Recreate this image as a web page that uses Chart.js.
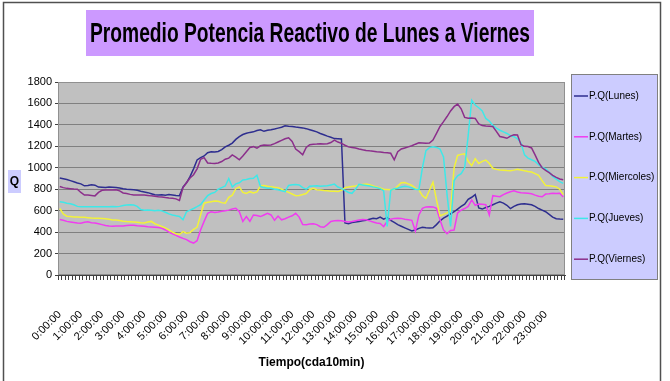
<!DOCTYPE html>
<html lang="es">
<head>
<meta charset="UTF-8">
<title>Promedio Potencia Reactivo de Lunes a Viernes</title>
<script src="https://cdn.jsdelivr.net/npm/chart.js@4.4.1/dist/chart.umd.min.js"></script>
<style>
  html, body { margin: 0; padding: 0; background: #fff; }
  .chart-box { position: relative; width: 670px; height: 381px; }
</style>
</head>
<body>
<div class="chart-box">
  <canvas id="qChart" width="670" height="381"></canvas>
</div>
<script>
// etiquetas de hora (una por hora, el eje tiene datos cada 10 min)
const hourLabels = ['0:00:00', '1:00:00', '2:00:00', '3:00:00', '4:00:00', '5:00:00',
  '6:00:00', '7:00:00', '8:00:00', '9:00:00', '10:00:00', '11:00:00',
  '12:00:00', '13:00:00', '14:00:00', '15:00:00', '16:00:00', '17:00:00',
  '18:00:00', '19:00:00', '20:00:00', '21:00:00', '22:00:00', '23:00:00'];
const minuteSteps = ['00', '10', '20', '30', '40', '50'];

const times = [];
hourLabels.forEach((h, hi) => {
  minuteSteps.forEach(m => times.push(hi + ':' + m + ':00'));
});

const seriesNames = ['P.Q(Lunes)', 'P.Q(Martes)', 'P.Q(Miercoles)', 'P.Q(Jueves)', 'P.Q(Viernes)'];
const seriesColors = ['#2e2e8f', '#f03cf0', '#f2f23a', '#3ee8e8', '#8b2f8b'];

const lunes = [
  905, 898, 890, 880, 870, 858, 850, 832, 835, 842, 838, 820,
  818, 816, 820, 818, 815, 812, 805, 800, 798, 795, 790, 782,
  775, 768, 758, 748, 745, 748, 744, 750, 746, 742, 740, 820,
  860, 917, 990, 1073, 1095, 1110, 1140, 1150, 1148, 1152, 1170, 1195,
  1210, 1230, 1265, 1290, 1310, 1322, 1330, 1335, 1348, 1355, 1340, 1350,
  1355, 1362, 1370, 1378, 1392, 1388, 1385, 1380, 1376, 1372, 1365, 1355,
  1345, 1335, 1320, 1308, 1295, 1285, 1272, 1270, 1268, 485, 478, 490,
  495, 500, 505, 510, 520, 530, 525, 540, 520, 535, 510, 490,
  470, 455, 440, 425, 410, 420, 435, 445, 440, 438, 440, 470,
  505, 530, 550, 570, 590, 615, 640, 660, 705, 725, 750, 625,
  615, 630, 640, 655, 670, 682, 670, 650, 620, 640, 655, 662,
  665, 660, 655, 640, 620, 605, 590, 565, 540, 525, 522, 520];

const martes = [
  518, 510, 500, 495, 490, 484, 482, 492, 496, 488, 485, 478,
  470, 462, 456, 455, 458, 457, 458, 462, 465, 463, 460, 458,
  455, 450, 448, 445, 442, 436, 420, 400, 385, 370, 355, 342,
  330, 310, 298, 320, 420, 500, 575, 590, 582, 588, 595, 600,
  605, 615, 622, 590, 500, 545, 500, 560, 555, 545, 560, 575,
  560, 510, 550, 515, 525, 540, 552, 575, 540, 470, 468, 475,
  478, 470, 450, 445, 470, 500, 505, 508, 505, 500, 495, 498,
  505, 512, 518, 515, 505, 495, 485, 480, 452, 500, 520, 528,
  530, 528, 520, 515, 510, 410, 560, 622, 635, 637, 635, 622,
  515, 420, 385, 415, 420, 580, 605, 620, 640, 700, 650, 662,
  660, 655, 560, 740, 735, 730, 750, 765, 777, 785, 775, 768,
  765, 762, 758, 745, 735, 730, 755, 758, 762, 760, 762, 728];

const miercoles = [
  620, 570, 548, 545, 542, 540, 538, 538, 535, 532, 530, 529,
  528, 525, 520, 514, 512, 508, 502, 498, 497, 495, 492, 488,
  485, 495, 500, 478, 465, 452, 440, 420, 400, 385, 378, 405,
  390, 395, 425, 445, 560, 670, 678, 684, 690, 688, 675, 670,
  725, 745, 805, 822, 770, 760, 777, 765, 775, 830, 835, 828,
  822, 818, 815, 800, 785, 770, 755, 740, 742, 750, 760, 795,
  808, 795, 792, 788, 785, 782, 780, 778, 790, 815, 820, 825,
  830, 838, 845, 849, 842, 830, 822, 812, 800, 798, 795, 800,
  830, 860, 862, 850, 835, 810, 795, 740, 715, 790, 865, 700,
  550, 565, 580, 600, 1000, 1115, 1125, 1130, 1060, 1020, 1085, 1040,
  1060, 1072, 1040, 995, 985, 980, 978, 975, 973, 978, 985, 980,
  972, 965, 960, 945, 930, 880, 835, 832, 828, 822, 800, 750];

const jueves = [
  684, 678, 670, 665, 655, 640, 637, 636, 637, 636, 637, 636,
  637, 636, 637, 638, 637, 640, 648, 653, 655, 652, 640, 610,
  605, 606, 604, 600, 604, 598, 585, 570, 560, 552, 545, 515,
  590, 605, 620, 637, 655, 700, 740, 760, 770, 800, 815, 830,
  900, 820, 850, 860, 886, 890, 900, 902, 930, 825, 815, 810,
  808, 800, 795, 785, 778, 835, 842, 845, 840, 815, 800, 828,
  830, 832, 828, 830, 832, 840, 848, 820, 808, 790, 770, 762,
  800, 845, 840, 835, 830, 822, 815, 805, 785, 452, 790, 805,
  810, 820, 828, 822, 812, 800, 795, 1000, 1160, 1188, 1195, 1190,
  1175, 1100, 750, 452, 880, 925, 945, 1000, 1300, 1630, 1585, 1560,
  1530, 1460, 1435, 1395, 1370, 1350, 1335, 1320, 1300, 1290, 1270, 1230,
  1120, 1090, 1075, 1060, 1030, 1005, 990, 960, 920, 895, 870, 855];

const viernes = [
  825, 815, 808, 805, 802, 800, 770, 745, 745, 742, 738, 770,
  790, 793, 792, 793, 794, 785, 765, 760, 752, 746, 745, 746,
  745, 742, 738, 735, 730, 728, 722, 718, 715, 710, 695, 815,
  860, 905, 935, 990, 1080, 1095, 1045, 1042, 1040, 1045, 1058, 1080,
  1090, 1120, 1100, 1075, 1110, 1150, 1190, 1197, 1182, 1205, 1213, 1210,
  1212, 1225, 1240, 1255, 1270, 1280, 1245, 1175, 1150, 1122, 1190, 1215,
  1220, 1222, 1225, 1222, 1224, 1235, 1258, 1240, 1228, 1210, 1195, 1190,
  1185, 1175, 1168, 1162, 1158, 1155, 1150, 1148, 1142, 1140, 1135, 1075,
  1150, 1175, 1185, 1195, 1205, 1220, 1234, 1232, 1228, 1230, 1258, 1320,
  1385, 1430, 1478, 1530, 1570, 1595, 1550, 1470, 1462, 1465, 1460, 1410,
  1395, 1390, 1388, 1385, 1340, 1292, 1285, 1275, 1295, 1308, 1305, 1215,
  1200, 1198, 1185, 1120, 1050, 1000, 975, 955, 930, 910, 895, 888];

const seriesValues = [lunes, martes, miercoles, jueves, viernes];
const yTicks = { min: 0, max: 1800, step: 200 };

const FONT = '"Liberation Sans", Arial, sans-serif';

// fondo, marco, titulo, etiqueta Q y leyenda (estilo Excel)
const excelFrame = {
  id: 'excelFrame',
  beforeDraw(chart) {
    const ctx = chart.ctx;
    const a = chart.chartArea;
    ctx.save();
    ctx.fillStyle = '#fff';
    ctx.fillRect(0, 0, chart.width, chart.height);

    // borde exterior
    ctx.strokeStyle = '#505050';
    ctx.lineWidth = 1.5;
    ctx.strokeRect(3.5, 2.5, 657, 400);

    // area del grafico
    ctx.fillStyle = '#c0c0c0';
    ctx.fillRect(a.left, a.top, a.right - a.left, a.bottom - a.top);

    // titulo
    ctx.fillStyle = '#cc99ff';
    ctx.fillRect(86, 10, 448, 46);
    const title = 'Promedio Potencia Reactivo de Lunes a Viernes';
    ctx.font = 'bold 28px "Liberation Sans Narrow", ' + FONT;
    const w = ctx.measureText(title).width;
    const sx = Math.min(1, 440 / w);
    ctx.translate(310, 34);
    ctx.scale(sx, 1);
    ctx.fillStyle = '#000';
    ctx.textAlign = 'center';
    ctx.textBaseline = 'middle';
    ctx.fillText(title, 0, 0);
    ctx.restore();

    // etiqueta del eje Y
    ctx.save();
    ctx.fillStyle = '#ccccff';
    ctx.fillRect(8, 170, 13, 23);
    ctx.fillStyle = '#000';
    ctx.font = 'bold 12px ' + FONT;
    ctx.textAlign = 'center';
    ctx.textBaseline = 'middle';
    ctx.fillText('Q', 14.5, 182);
    ctx.restore();
  },
  afterDraw(chart) {
    const ctx = chart.ctx;
    const a = chart.chartArea;
    ctx.save();
    ctx.strokeStyle = '#909090';
    ctx.lineWidth = 1;
    ctx.strokeRect(a.left + 0.5, a.top + 0.5, a.right - a.left - 1, a.bottom - a.top - 1);

    // leyenda
    ctx.fillStyle = '#ccccff';
    ctx.fillRect(571, 74, 86, 205);
    ctx.strokeStyle = '#808080';
    ctx.strokeRect(571.5, 74.5, 86, 205);
    ctx.font = '10px ' + FONT;
    ctx.textBaseline = 'middle';
    chart.data.datasets.forEach((ds, i) => {
      const y = 96 + i * 40.8;
      ctx.strokeStyle = ds.borderColor;
      ctx.lineWidth = 1.5;
      ctx.beginPath();
      ctx.moveTo(574, y);
      ctx.lineTo(588, y);
      ctx.stroke();
      ctx.fillStyle = '#000';
      ctx.fillText(ds.label, 589, y);
    });
    ctx.restore();
  }
};

const datasets = seriesNames.map((name, i) => ({
  label: name,
  data: seriesValues[i],
  borderColor: seriesColors[i],
  backgroundColor: seriesColors[i],
  borderWidth: 1.5,
  pointRadius: 0,
  tension: 0,
  fill: false,
  order: seriesNames.length - i
}));

new Chart(document.getElementById('qChart'), {
  type: 'line',
  data: { labels: times, datasets: datasets },
  options: {
    responsive: false,
    animation: false,
    events: [],
    layout: { padding: { left: 0, top: 82, right: 105, bottom: 0 } },
    plugins: {
      legend: { display: false },
      title: { display: false },
      tooltip: { enabled: false }
    },
    scales: {
      x: {
        offset: true,
        grid: {
          offset: true,
          drawOnChartArea: false,
          drawTicks: true,
          tickLength: 5,
          color: '#404040'
        },
        border: { display: true, color: '#404040' },
        ticks: {
          autoSkip: false,
          minRotation: 45,
          maxRotation: 45,
          padding: 28,
          color: '#000',
          font: { family: FONT, size: 11 },
          callback: (v, i) => (i % 6 === 0 ? hourLabels[i / 6] : '')
        },
        title: {
          display: true,
          text: 'Tiempo(cda10min)',
          color: '#000',
          font: { family: FONT, size: 12, weight: 'bold' },
          padding: { top: 0, bottom: 11 }
        },
        afterFit: s => { s.height = 106; }
      },
      y: {
        min: yTicks.min,
        max: yTicks.max,
        grid: { color: '#808080', tickLength: 3, tickColor: '#404040' },
        border: { display: true, color: '#404040' },
        ticks: {
          stepSize: yTicks.step,
          padding: 3,
          color: '#000',
          font: { family: FONT, size: 11 },
          callback: v => String(v)
        },
        afterFit: s => { s.width = 58; }
      }
    }
  },
  plugins: [excelFrame]
});
</script>
</body>
</html>
